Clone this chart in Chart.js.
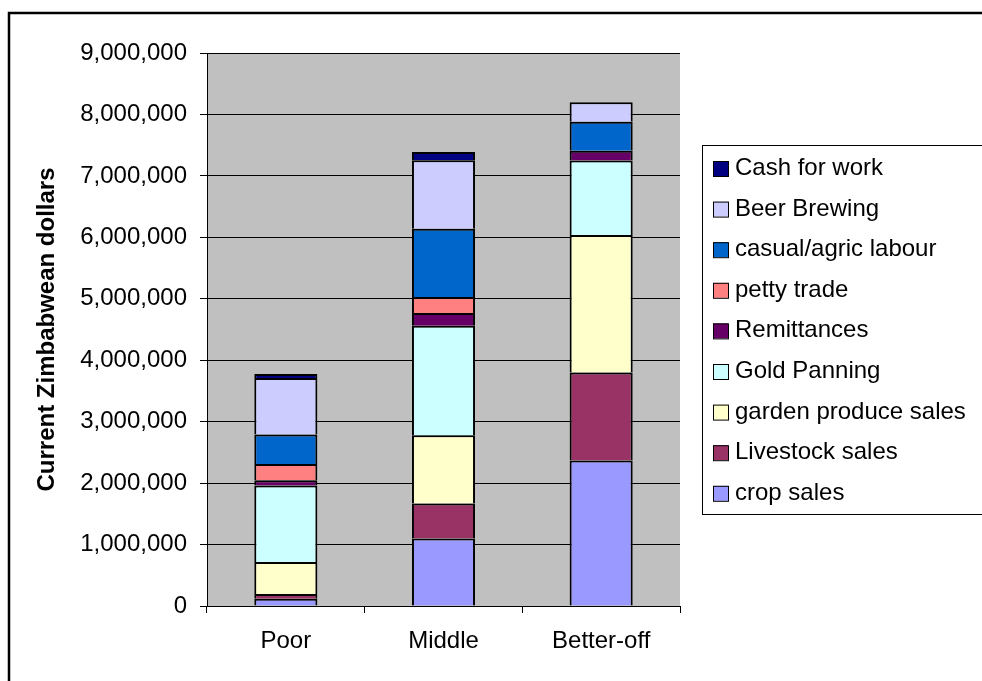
<!DOCTYPE html>
<html>
<head>
<meta charset="utf-8">
<title>Income sources by wealth group</title>
<script src="https://cdn.jsdelivr.net/npm/chart.js@4/dist/chart.umd.min.js"></script>
<style>
    html,body{margin:0;padding:0;background:#fff;}
    #wrap{width:982px;height:681px;}
</style>
</head>
<body>
<div id="wrap"><canvas id="incomeChart" width="982" height="681"></canvas></div>
<script>

//======================================
// Data
//======================================

const groups = ["Poor", "Middle", "Better-off"];

const cropSales      = [120000, 1100000, 2370000];
const livestockSales = [75000, 570000, 1430000];
const gardenProduce  = [520000, 1110000, 2240000];
const goldPanning    = [1245000, 1780000, 1210000];
const remittances    = [86000, 210000, 160000];
const pettyTrade     = [265000, 260000, 0];
const casualLabour   = [480000, 1110000, 470000];
const beerBrewing    = [918000, 1113000, 320000];
const cashForWork    = [65000, 136000, 0];

const yTicks = [0, 1000000, 2000000, 3000000, 4000000, 5000000, 6000000, 7000000, 8000000, 9000000];

const FONT = "'Liberation Sans', Arial, Helvetica, sans-serif";
Chart.defaults.font.family = FONT;
Chart.defaults.color = "#000";


//======================================
// Datasets (bottom of stack first)
//======================================

function series(label, data, colour){
    return {
        label: label,
        data: data,
        backgroundColor: colour,
        borderColor: "#000",
        borderWidth: 2,
        borderSkipped: "start",
        inflateAmount: 0,
        categoryPercentage: 1,
        barPercentage: 0.4
    };
}

const datasets = [
    series("crop sales", cropSales, "#9999FF"),
    series("Livestock sales", livestockSales, "#993366"),
    series("garden produce sales", gardenProduce, "#FFFFCC"),
    series("Gold Panning", goldPanning, "#CCFFFF"),
    series("Remittances", remittances, "#660066"),
    series("petty trade", pettyTrade, "#FF8080"),
    series("casual/agric labour", casualLabour, "#0066CC"),
    series("Beer Brewing", beerBrewing, "#CCCCFF"),
    series("Cash for work", cashForWork, "#000080")
];


//======================================
// Plot background + frame
//======================================

const plotBackground = {
    id: "plotBackground",
    beforeDraw(chart){
        const {ctx, chartArea} = chart;
        ctx.save();
        ctx.fillStyle = "#C0C0C0";
        ctx.fillRect(chartArea.left, chartArea.top, chartArea.right - chartArea.left, chartArea.bottom - chartArea.top);
        ctx.restore();
    },
    afterDraw(chart){
        const ctx = chart.ctx;
        ctx.save();
        ctx.strokeStyle = "#000";
        ctx.lineWidth = 2.5;
        ctx.beginPath();
        ctx.moveTo(9, 700);
        ctx.lineTo(9, 13);
        ctx.lineTo(1000, 13);
        ctx.stroke();
        ctx.restore();
    }
};


//======================================
// Legend box (top of stack listed first)
//======================================

const boxLegend = {
    id: "boxLegend",
    afterDraw(chart){
        const ctx = chart.ctx;
        const items = chart.data.datasets.slice().reverse();

        ctx.save();
        ctx.fillStyle = "#fff";
        ctx.fillRect(702, 145, 300, 369);
        ctx.strokeStyle = "#000";
        ctx.lineWidth = 1;
        ctx.strokeRect(702.5, 145.5, 300, 369);

        ctx.font = "24px " + FONT;
        ctx.textBaseline = "alphabetic";
        ctx.textAlign = "left";

        items.forEach((ds, i) => {
            const base = 175 + i * 40.6;
            ctx.fillStyle = ds.backgroundColor;
            ctx.fillRect(713, base - 14, 15, 15);
            ctx.strokeStyle = "#000";
            ctx.strokeRect(713.5, base - 13.5, 15, 15);
            ctx.fillStyle = "#000";
            ctx.fillText(ds.label, 735, base);
        });
        ctx.restore();
    }
};


//======================================
// Chart
//======================================

new Chart(document.getElementById("incomeChart"), {

    type: "bar",

    data: {
        labels: groups,
        datasets: datasets
    },

    options: {
        responsive: false,
        animation: false,
        layout: {
            padding: {left: 0, top: 53, right: 302, bottom: 0}
        },
        plugins: {
            legend: {display: false},
            tooltip: {enabled: false}
        },
        scales: {
            x: {
                stacked: true,
                afterFit(scale){ scale.height = 75; },
                grid: {
                    display: true,
                    offset: true,
                    drawOnChartArea: false,
                    drawTicks: true,
                    tickLength: 7,
                    color: "#000",
                    lineWidth: 1
                },
                border: {display: true, color: "#000", width: 1},
                ticks: {
                    font: {size: 24},
                    color: "#000",
                    padding: 14
                }
            },
            y: {
                stacked: true,
                min: 0,
                max: 9000000,
                afterFit(scale){ scale.width = 207; },
                afterBuildTicks(scale){
                    scale.ticks = yTicks.map(v => ({value: v}));
                },
                grid: {
                    color: "#000",
                    lineWidth: 1,
                    drawTicks: true,
                    tickLength: 7
                },
                border: {display: true, color: "#000", width: 1},
                ticks: {
                    font: {size: 24},
                    color: "#000",
                    padding: 13,
                    callback: v => Number(v).toLocaleString("en-US")
                },
                title: {
                    display: true,
                    text: "Current Zimbabwean dollars",
                    font: {size: 24, weight: "bold"},
                    color: "#000",
                    padding: {top: 33, bottom: 0}
                }
            }
        }
    },

    plugins: [plotBackground, boxLegend]

});

</script>
</body>
</html>
